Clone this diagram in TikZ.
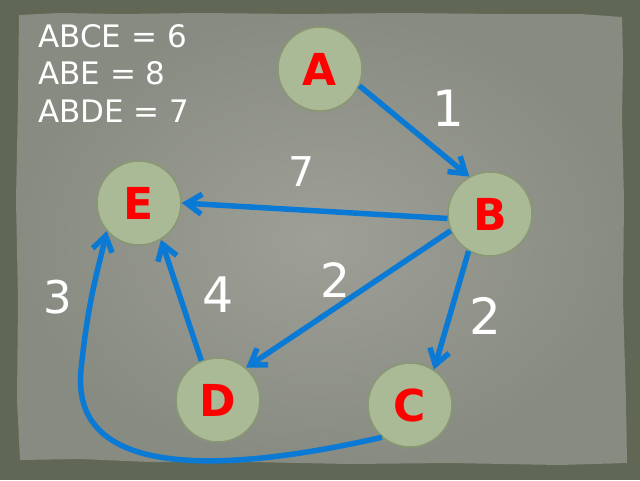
\documentclass[tikz,border=0pt]{standalone}
\usepackage{fontspec}
\setmainfont{DejaVu Sans}
\usetikzlibrary{arrows.meta}
\definecolor{bgdark}{RGB}{96,103,84}
\definecolor{paper}{RGB}{136,139,130}
\definecolor{paperlight}{RGB}{158,160,152}
\definecolor{nodefill}{RGB}{170,185,150}
\definecolor{nodeedge}{RGB}{138,152,114}
\definecolor{arrowblue}{RGB}{10,122,212}
\begin{document}
\begin{tikzpicture}[x=1pt,y=-1pt,
  vertex/.style={circle, fill=nodefill, draw=nodeedge, line width=1.5pt, minimum size=84pt, inner sep=0pt, text=red, font=\fontsize{44}{44}\selectfont\bfseries},
  edge/.style={draw=arrowblue, line width=5.5pt, -{Straight Barb[length=15pt,width=20pt]}},
  wlabel/.style={text=white, inner sep=0pt, font=\fontsize{47}{47}\selectfont},
  sumtext/.style={text=white, inner sep=0pt, anchor=base west, font=\fontsize{31}{31}\selectfont}]
\useasboundingbox (0,0) rectangle (640,480);
\fill[bgdark] (0,0) rectangle (640,480);
\shade[inner color=paperlight, outer color=paper]
  (19,15) -- (60,13) -- (120,14) -- (200,13) -- (300,14) -- (400,13) -- (500,14) -- (580,14) -- (622,17)
  -- (623,60) -- (622,120) -- (624,200) -- (623,300) -- (626,400) -- (627,463)
  -- (560,465) -- (450,463) -- (350,464) -- (250,462) -- (150,462) -- (80,459) -- (20,460)
  -- (17,400) -- (18,300) -- (16,200) -- (18,100) -- cycle;

\node[sumtext] (s1) at (38,47) {ABCE = 6};
\node[sumtext] (s2) at (38,84) {ABE = 8};
\node[sumtext] (s3) at (38,122) {ABDE = 7};

\node[vertex] (A) at (320,69) {A};
\node[vertex] (E) at (139,203) {E};
\node[vertex] (B) at (490,214) {B};
\node[vertex] (D) at (218,400) {D};
\node[vertex] (C) at (410,405) {C};

\draw[edge] (A.-23) -- (B.119);
\draw[edge] (B.186) -- (E.0);
\draw[edge] (B.-157) -- (D.49);
\draw[edge] (B.-120) -- (C.56);
\draw[edge] (D.113) -- (E.-59);
\draw[edge] (C.-131) .. controls (230,472) and (70,482) .. (81,370) .. controls (88,300) and (98,270) .. (E.-139);

\node[wlabel, font=\fontsize{50}{50}\selectfont] (l1) at (448,108) {1};
\node[wlabel, font=\fontsize{41}{41}\selectfont] (l7) at (302,172) {7};
\node[wlabel] (l2a) at (335,280) {2};
\node[wlabel, font=\fontsize{50}{50}\selectfont] (l2b) at (485,316) {2};
\node[wlabel, font=\fontsize{45}{45}\selectfont] (l3) at (58,297) {3};
\node[wlabel, font=\fontsize{49}{49}\selectfont] (l4) at (218,295) {4};
\end{tikzpicture}
\end{document}
